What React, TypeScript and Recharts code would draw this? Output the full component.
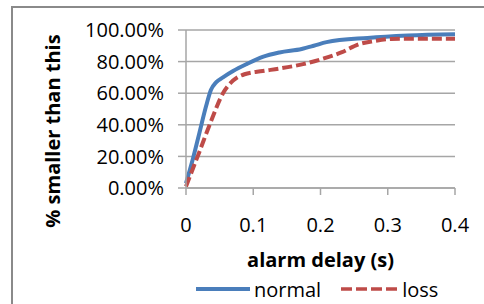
import React from 'react';
import { LineChart, Line, XAxis, YAxis, CartesianGrid, Legend } from 'recharts';

// CDF of alarm delay
const normalDelay = [0, 0.01, 0.02, 0.03, 0.037, 0.045, 0.055, 0.07, 0.09, 0.114, 0.139, 0.172, 0.19, 0.209, 0.27, 0.33, 0.4];
const normalPct = [3, 18, 35, 52, 62, 67, 70, 74, 78.4, 83, 85.8, 88, 90, 92.3, 95, 96.5, 97.3];
const lossDelay = [0, 0.02, 0.037, 0.055, 0.07, 0.087, 0.114, 0.139, 0.174, 0.205, 0.232, 0.257, 0.28, 0.305, 0.35, 0.4];
const lossPct = [1, 23, 42, 60, 68, 72, 74, 75.6, 78.4, 82, 86, 91, 93, 94.3, 94.5, 94.5];

const seriesNames = ['normal', 'loss'];
const seriesColors = ['#4a7ebb', '#be4b48'];
const seriesDash = [undefined, '10 4'];

const xTicks = [0, 0.1, 0.2, 0.3, 0.4];
const yTicks = [0, 20, 40, 60, 80, 100];

const normalData = normalDelay.map((d, i) => ({ delay: d, pct: normalPct[i] }));
const lossData = lossDelay.map((d, i) => ({ delay: d, pct: lossPct[i] }));

const FONT = '"Open Sans", Lato, sans-serif';
const GRID = '#a6a6a6';

const renderLegend = () => (
  <div style={{ display: 'flex', alignItems: 'center', height: 26, fontFamily: FONT, fontSize: 20, color: '#000' }}>
    {seriesNames.map((name, i) => (
      <div key={name} style={{ display: 'flex', alignItems: 'center', marginRight: i === 0 ? 20 : 0 }}>
        <svg width={i === 0 ? 54 : 57} height={8}>
          <line
            x1={0}
            y1={4}
            x2={i === 0 ? 54 : 57}
            y2={4}
            stroke={seriesColors[i]}
            strokeWidth={i === 0 ? 4 : 3.5}
            strokeDasharray={i === 0 ? undefined : '11 4'}
          />
        </svg>
        <span style={{ marginLeft: 4 }}>{name}</span>
      </div>
    ))}
  </div>
);

export default function App() {
  return (
    <div style={{ position: 'absolute', left: 0, top: 0, width: 484, height: 304, overflow: 'hidden', background: '#fff' }}>
      <div
        style={{
          position: 'absolute',
          left: 11,
          top: 6,
          width: 480,
          height: 310,
          borderLeft: '2px solid #8a8a8a',
          borderTop: '2px solid #8a8a8a',
        }}
      />
      <LineChart
        width={484}
        height={304}
        margin={{ top: 30, right: 29, left: 10, bottom: 2 }}
        style={{ position: 'absolute', left: 0, top: 0 }}
      >
        <CartesianGrid vertical={false} stroke={GRID} strokeWidth={1.5} />
        <XAxis
          type="number"
          dataKey="delay"
          domain={[0, 0.4]}
          ticks={xTicks}
          height={88}
          stroke={GRID}
          strokeWidth={1.5}
          tickSize={7}
          tickMargin={23}
          tick={{ fill: '#000', fontSize: 20, fontFamily: FONT }}
          label={{
            value: 'alarm delay (s)',
            position: 'insideBottom',
            offset: 9,
            fill: '#000',
            fontSize: 20,
            fontWeight: 'bold',
            fontFamily: FONT,
          }}
        />
        <YAxis
          type="number"
          domain={[0, 100]}
          ticks={yTicks}
          width={176}
          stroke={GRID}
          strokeWidth={1.5}
          tickSize={8}
          tickMargin={14}
          tickFormatter={(v: number) => v.toFixed(2) + '%'}
          tick={{ fill: '#000', fontSize: 20, fontFamily: FONT }}
          label={{
            content: () => (
              <text
                x={52}
                y={131}
                transform="rotate(-90 52 131)"
                textAnchor="middle"
                dominantBaseline="central"
                fill="#000"
                fontSize={20}
                fontWeight="bold"
                fontFamily={FONT}
              >
                % smaller than this
              </text>
            ),
          }}
        />
        <Legend verticalAlign="bottom" height={26} content={renderLegend} wrapperStyle={{ left: 196, bottom: 2, width: 'auto' }} />
        <Line
          data={normalData}
          dataKey="pct"
          name={seriesNames[0]}
          type="monotone"
          stroke={seriesColors[0]}
          strokeWidth={4}
          dot={false}
          isAnimationActive={false}
        />
        <Line
          data={lossData}
          dataKey="pct"
          name={seriesNames[1]}
          type="monotone"
          stroke={seriesColors[1]}
          strokeWidth={4}
          strokeDasharray={seriesDash[1]}
          dot={false}
          isAnimationActive={false}
        />
      </LineChart>
    </div>
  );
}
